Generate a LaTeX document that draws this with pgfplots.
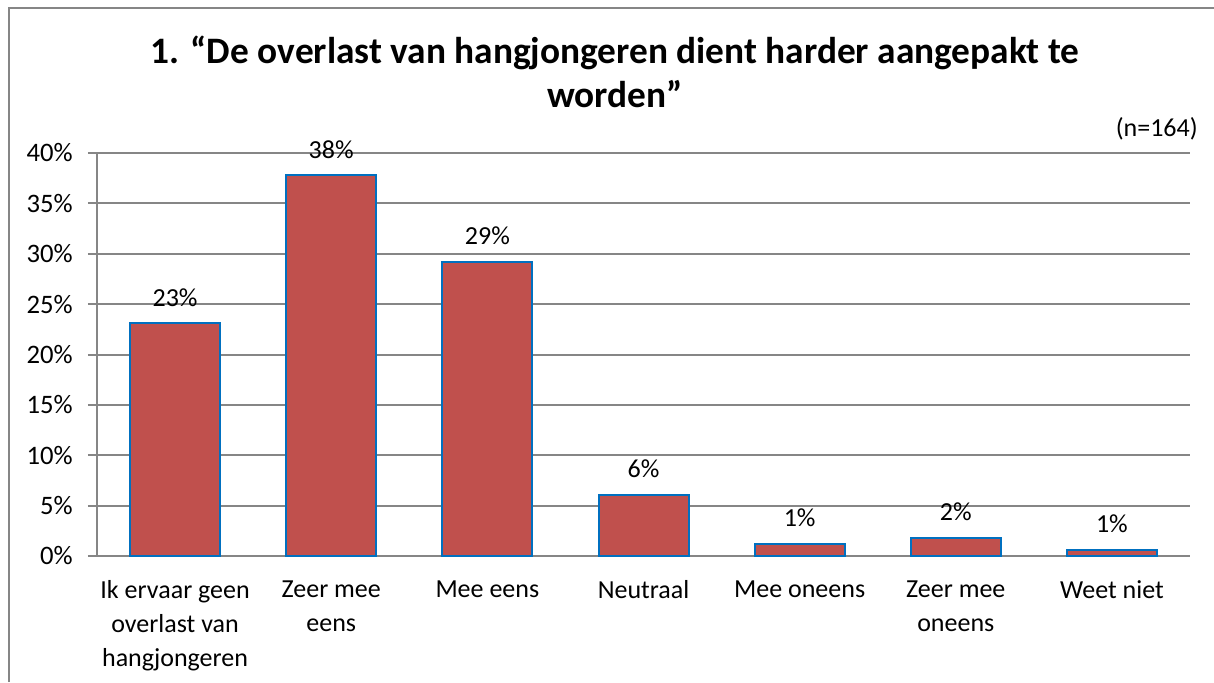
\documentclass[border=0pt]{standalone}
\usepackage{pgfplots}
\pgfplotsset{compat=1.18}
\usepackage{fontspec}
\setmainfont{Carlito}
\definecolor{barred}{HTML}{C0504D}
\definecolor{barblue}{HTML}{0070C0}
\definecolor{gridgray}{HTML}{868686}
\begin{document}
\begin{tikzpicture}[x=0.75pt,y=0.75pt]
\useasboundingbox (0,0) rectangle (1214,682);
\draw[gridgray, line width=1.5pt] (9,0) -- (9,674) -- (1214,674);
\node[font=\fontsize{28}{33}\selectfont\bfseries, anchor=base] at (615,618) {1. “De overlast van hangjongeren dient harder aangepakt te};
\node[font=\fontsize{28}{33}\selectfont\bfseries, anchor=base] at (615,574) {worden”};
\node[font=\fontsize{19.5}{25}\selectfont, anchor=base east, inner sep=0pt] at (1198,545) {(n=164)};
\begin{axis}[
  at={(72.75pt,94.5pt)}, anchor=south west,
  width=819.75pt, height=302.25pt, scale only axis,
  xmin=-0.5, xmax=6.5, ymin=0, ymax=40,
  axis x line*=bottom, axis y line*=left,
  axis line style={gridgray, line width=1.5pt, -},
  ytick={0,5,...,40},
  yticklabel={\pgfmathprintnumber{\tick}\%},
  /pgf/number format/assume math mode=true,
  ymajorgrids, grid style={gridgray, line width=1.5pt},
  major tick style={gridgray, line width=1.5pt},
  tick align=outside,
  major tick length=6.75pt,
  xtick={0,...,6},
  xticklabels={{Ik ervaar geen\\overlast van\\hangjongeren},{Zeer mee\\eens},{Mee eens},{Neutraal},{Mee oneens},{Zeer mee\\oneens},{Weet niet}},
  x tick label style={align=center, font=\fontsize{19.5}{25.5}\selectfont, yshift=-8pt},
  y tick label style={font=\fontsize{20}{25}\selectfont, xshift=-8pt},
  x tick style={draw=none},
  minor xtick={-0.5,0.5,...,6.5},
  minor tick length=6.75pt,
  minor tick style={gridgray, line width=1.5pt},
  xminorgrids=false,
  ybar, bar width=67.5pt,
  nodes near coords={\pgfmathprintnumber[fixed,precision=0]{\pgfplotspointmeta}\%},
  every node near coord/.append style={font=\fontsize{19.5}{25}\selectfont, anchor=base, yshift=12.75pt, black},
  clip=false,
]
\addplot[fill=barred, draw=barblue, line width=1.5pt] coordinates {
(0,23.1) (1,37.8) (2,29.2) (3,6.1) (4,1.2) (5,1.8) (6,0.6)};
\end{axis}
\end{tikzpicture}
\end{document}
